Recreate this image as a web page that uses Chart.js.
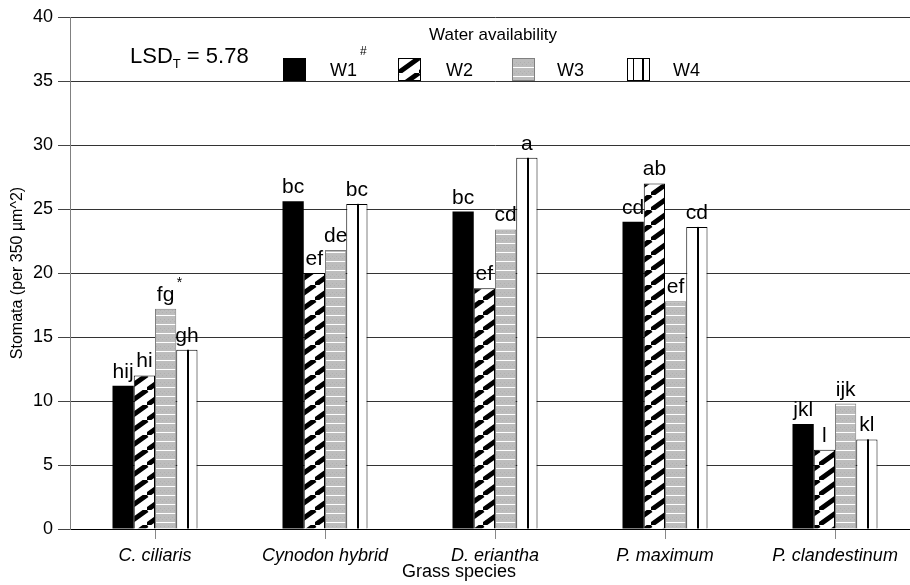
<!DOCTYPE html>
<html>
<head>
<meta charset="utf-8">
<script src="https://cdn.jsdelivr.net/npm/chart.js@4.4.1/dist/chart.umd.min.js"></script>
<style>
  html, body { margin: 0; padding: 0; background: #fff; overflow: hidden; }
  canvas { display: block; }
</style>
</head>
<body>
<canvas id="chart" width="920" height="585"></canvas>
<script>
const species = ['C. ciliaris', 'Cynodon hybrid', 'D. eriantha', 'P. maximum', 'P. clandestinum'];
const treatments = ['W1', 'W2', 'W3', 'W4'];
const w1 = [11.2, 25.6, 24.8, 24.0, 8.2];
const w2 = [12.0, 20.0, 18.8, 27.0, 6.2];
const w3 = [17.2, 21.8, 23.4, 17.8, 9.8];
const w4 = [14.0, 25.4, 29.0, 23.6, 7.0];
const letters1 = ['hij', 'bc', 'bc', 'cd', 'jkl'];
const letters2 = ['hi', 'ef', 'ef', 'ab', 'l'];
const letters3 = ['fg*', 'de', 'cd', 'ef', 'ijk'];
const letters4 = ['gh', 'bc', 'a', 'cd', 'kl'];
const yMax = 40;
const yStep = 5;
const lsd = '5.78';

const FONT = '"Liberation Sans", Arial, sans-serif';

// fill patterns
function stripePattern() {
  const c = document.createElement('canvas');
  c.width = 21; c.height = 15;
  const g = c.getContext('2d');
  g.fillStyle = '#fff';
  g.fillRect(0, 0, 21, 15);
  g.strokeStyle = '#000';
  g.lineWidth = 5;
  g.beginPath();
  g.moveTo(0, 15); g.lineTo(21, 0);
  g.moveTo(-21, 15); g.lineTo(0, 0);
  g.moveTo(21, 30); g.lineTo(42, 15);
  g.stroke();
  return g.createPattern(c, 'repeat');
}

function greyPattern() {
  const c = document.createElement('canvas');
  c.width = 4; c.height = 9;
  const g = c.getContext('2d');
  g.fillStyle = '#bdbdbd';
  g.fillRect(0, 0, 4, 9);
  g.fillStyle = '#b0b0b0';
  g.fillRect(0, 4, 1, 1);
  g.fillRect(2, 6, 1, 1);
  g.fillStyle = '#fff';
  g.fillRect(0, 0, 4, 1);
  return g.createPattern(c, 'repeat');
}

const fills = ['#000', stripePattern(), greyPattern(), '#fff'];
const borders = ['#000', '#000', '#808080', '#000'];
const allLetters = [letters1, letters2, letters3, letters4];

const extras = {
  id: 'extras',
  afterDatasetsDraw(chart) {
    const ctx = chart.ctx;
    ctx.save();
    // middle line of W4 bars
    ctx.fillStyle = '#000';
    chart.getDatasetMeta(3).data.forEach(bar => {
      ctx.fillRect(Math.round(bar.x), bar.y, 2, bar.base - bar.y);
    });
    // significance letters
    ctx.textAlign = 'center';
    ctx.textBaseline = 'alphabetic';
    allLetters.forEach((arr, i) => {
      chart.getDatasetMeta(i).data.forEach((bar, j) => {
        let txt = arr[j];
        const star = txt.endsWith('*');
        if (star) txt = txt.slice(0, -1);
        ctx.font = '21px ' + FONT;
        ctx.fillText(txt, bar.x, bar.y - 8);
        if (star) {
          const w = ctx.measureText(txt).width;
          ctx.font = '14px ' + FONT;
          ctx.fillText('*', bar.x + w / 2 + 5, bar.y - 22);
        }
      });
    });
    ctx.restore();
  },
  afterDraw(chart) {
    const ctx = chart.ctx;
    ctx.save();
    ctx.fillStyle = '#000';
    ctx.textBaseline = 'alphabetic';

    // LSD
    ctx.textAlign = 'left';
    ctx.font = '22px ' + FONT;
    ctx.fillText('LSD', 130, 63);
    let x = 130 + ctx.measureText('LSD').width;
    ctx.font = '13px ' + FONT;
    ctx.fillText('T', x, 68);
    x += ctx.measureText('T').width;
    ctx.font = '22px ' + FONT;
    ctx.fillText(' = ' + lsd, x, 63);

    // legend
    ctx.textAlign = 'center';
    ctx.font = '17px ' + FONT;
    ctx.fillText('Water availability', 493, 40);
    const boxX = [283, 398, 512, 627];
    const textX = [330, 446, 557, 673];
    treatments.forEach((t, i) => {
      ctx.save();
      ctx.translate(boxX[i], 58);
      ctx.fillStyle = fills[i];
      ctx.fillRect(0, 0, 23, 23);
      if (i > 0) {
        ctx.strokeStyle = borders[i];
        ctx.lineWidth = 1;
        ctx.strokeRect(0.5, 0.5, 22, 22);
      }
      if (i === 3) {
        ctx.fillStyle = '#000';
        ctx.fillRect(6, 0, 1, 23);
        ctx.fillRect(15, 0, 2, 23);
      }
      ctx.restore();
      ctx.textAlign = 'left';
      ctx.font = '18px ' + FONT;
      ctx.fillText(t, textX[i], 76);
    });
    ctx.font = '12px ' + FONT;
    ctx.fillText('#', 360, 55);

    // x axis title
    ctx.textAlign = 'center';
    ctx.textBaseline = 'middle';
    ctx.font = '18px ' + FONT;
    ctx.fillText('Grass species', 459, 572);
    ctx.restore();
  }
};

const seriesValues = [w1, w2, w3, w4];

new Chart(document.getElementById('chart'), {
  type: 'bar',
  data: {
    labels: species,
    datasets: treatments.map((t, i) => ({
      label: t,
      data: seriesValues[i],
      backgroundColor: fills[i],
      borderColor: borders[i],
      borderWidth: i === 0 ? 0 : 1,
      categoryPercentage: 0.5,
      barPercentage: 1.0
    }))
  },
  options: {
    responsive: false,
    animation: false,
    events: [],
    layout: { padding: { top: 17, left: 0, right: 0, bottom: 0 } },
    plugins: {
      legend: { display: false },
      tooltip: { enabled: false }
    },
    scales: {
      x: {
        afterFit(scale) { scale.height = 56; },
        border: { color: '#000', width: 1 },
        grid: { drawOnChartArea: false, offset: false, tickLength: 10, color: '#888' },
        ticks: {
          color: '#000',
          padding: 6,
          maxRotation: 0,
          font: { family: FONT, size: 18, style: 'italic' }
        }
      },
      y: {
        min: 0,
        max: yMax,
        afterFit(scale) { scale.width = 70; },
        border: { color: '#808080', width: 1 },
        grid: { color: '#333', tickLength: 12, tickColor: '#444' },
        ticks: {
          stepSize: yStep,
          color: '#000',
          padding: 5,
          font: { family: FONT, size: 18 }
        },
        title: {
          display: true,
          text: 'Stomata (per 350 µm^2)',
          color: '#000',
          padding: { top: 8, bottom: 0 },
          font: { family: FONT, size: 16 }
        }
      }
    }
  },
  plugins: [extras]
});
</script>
</body>
</html>
